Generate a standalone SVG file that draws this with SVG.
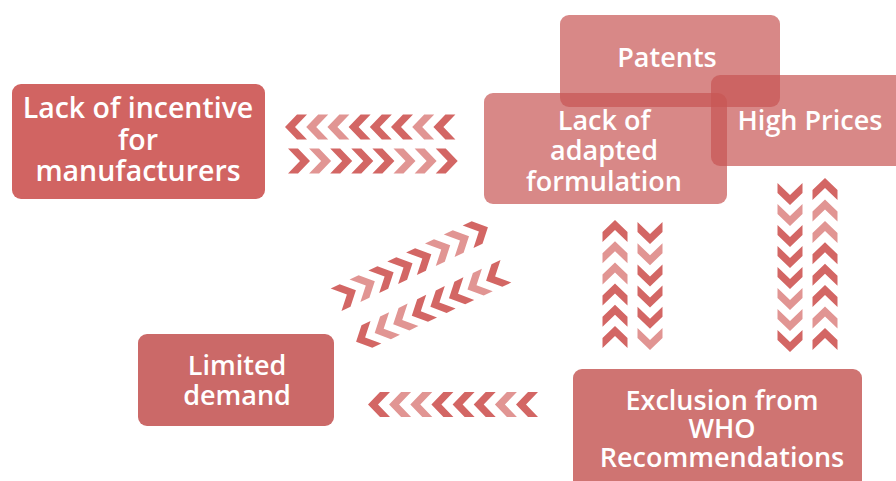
<svg xmlns="http://www.w3.org/2000/svg" xmlns:xlink="http://www.w3.org/1999/xlink" width="896" height="481" viewBox="0 0 896 481">
<defs>
<style>
.lbl{font-family:"Open Sans","Liberation Sans",sans-serif;font-size:27px;font-weight:600;fill:#ffffff;text-anchor:middle}
.big{font-size:28.5px}
.d{fill:#d36664}
.l{fill:#e19593}
.soft{fill:#c85654;fill-opacity:0.7}
</style>
<path id="ch" d="M-11,-12.5 L-1,-12.5 L11,0 L-1,12.5 L-11,12.5 L1,0 Z"/>
</defs>
<rect width="896" height="481" fill="#ffffff"/>
<g id="connectors">
<g id="row-top-left">
<use href="#ch" class="d" transform="translate(296,127) rotate(180)"/>
<use href="#ch" class="l" transform="translate(317.2,127) rotate(180)"/>
<use href="#ch" class="l" transform="translate(338.4,127) rotate(180)"/>
<use href="#ch" class="d" transform="translate(359.6,127) rotate(180)"/>
<use href="#ch" class="d" transform="translate(380.8,127) rotate(180)"/>
<use href="#ch" class="d" transform="translate(402,127) rotate(180)"/>
<use href="#ch" class="l" transform="translate(423.2,127) rotate(180)"/>
<use href="#ch" class="d" transform="translate(444.4,127) rotate(180)"/>
</g>
<g id="row-top-right">
<use href="#ch" class="d" transform="translate(299,161)"/>
<use href="#ch" class="l" transform="translate(320.1,161)"/>
<use href="#ch" class="d" transform="translate(341.2,161)"/>
<use href="#ch" class="d" transform="translate(362.3,161)"/>
<use href="#ch" class="d" transform="translate(383.4,161)"/>
<use href="#ch" class="l" transform="translate(404.5,161)"/>
<use href="#ch" class="l" transform="translate(425.6,161)"/>
<use href="#ch" class="d" transform="translate(446.7,161)"/>
</g>
<g id="diag-up">
<use href="#ch" class="d" transform="translate(346,295) rotate(-25.6)"/>
<use href="#ch" class="l" transform="translate(364.9,286) rotate(-25.6)"/>
<use href="#ch" class="d" transform="translate(383.7,277) rotate(-25.6)"/>
<use href="#ch" class="d" transform="translate(402.6,268) rotate(-25.6)"/>
<use href="#ch" class="d" transform="translate(421.4,259) rotate(-25.6)"/>
<use href="#ch" class="l" transform="translate(440.3,250) rotate(-25.6)"/>
<use href="#ch" class="l" transform="translate(459.1,241) rotate(-25.6)"/>
<use href="#ch" class="d" transform="translate(478,232) rotate(-25.6)"/>
</g>
<g id="diag-down">
<use href="#ch" class="d" transform="translate(366,337) rotate(154.4)"/>
<use href="#ch" class="l" transform="translate(384.6,328.3) rotate(154.4)"/>
<use href="#ch" class="l" transform="translate(403.1,319.6) rotate(154.4)"/>
<use href="#ch" class="d" transform="translate(421.7,310.9) rotate(154.4)"/>
<use href="#ch" class="d" transform="translate(440.3,302.1) rotate(154.4)"/>
<use href="#ch" class="d" transform="translate(458.9,293.4) rotate(154.4)"/>
<use href="#ch" class="l" transform="translate(477.4,284.7) rotate(154.4)"/>
<use href="#ch" class="d" transform="translate(496,276) rotate(154.4)"/>
</g>
<g id="col-mid-up">
<use href="#ch" class="d" transform="translate(615,231) rotate(-90)"/>
<use href="#ch" class="l" transform="translate(615,252.2) rotate(-90)"/>
<use href="#ch" class="l" transform="translate(615,273.4) rotate(-90)"/>
<use href="#ch" class="d" transform="translate(615,294.6) rotate(-90)"/>
<use href="#ch" class="d" transform="translate(615,315.8) rotate(-90)"/>
<use href="#ch" class="d" transform="translate(615,337) rotate(-90)"/>
</g>
<g id="col-mid-down">
<use href="#ch" class="d" transform="translate(650,233) rotate(90)"/>
<use href="#ch" class="l" transform="translate(650,254.2) rotate(90)"/>
<use href="#ch" class="d" transform="translate(650,275.4) rotate(90)"/>
<use href="#ch" class="d" transform="translate(650,296.6) rotate(90)"/>
<use href="#ch" class="d" transform="translate(650,317.8) rotate(90)"/>
<use href="#ch" class="l" transform="translate(650,339) rotate(90)"/>
</g>
<g id="col-right-down">
<use href="#ch" class="d" transform="translate(790,194) rotate(90)"/>
<use href="#ch" class="l" transform="translate(790,215) rotate(90)"/>
<use href="#ch" class="d" transform="translate(790,236) rotate(90)"/>
<use href="#ch" class="d" transform="translate(790,257) rotate(90)"/>
<use href="#ch" class="d" transform="translate(790,278) rotate(90)"/>
<use href="#ch" class="l" transform="translate(790,299) rotate(90)"/>
<use href="#ch" class="l" transform="translate(790,320) rotate(90)"/>
<use href="#ch" class="d" transform="translate(790,341) rotate(90)"/>
</g>
<g id="col-right-up">
<use href="#ch" class="d" transform="translate(825,189) rotate(-90)"/>
<use href="#ch" class="l" transform="translate(825,210.4) rotate(-90)"/>
<use href="#ch" class="l" transform="translate(825,231.9) rotate(-90)"/>
<use href="#ch" class="d" transform="translate(825,253.3) rotate(-90)"/>
<use href="#ch" class="d" transform="translate(825,274.7) rotate(-90)"/>
<use href="#ch" class="d" transform="translate(825,296.1) rotate(-90)"/>
<use href="#ch" class="l" transform="translate(825,317.6) rotate(-90)"/>
<use href="#ch" class="d" transform="translate(825,339) rotate(-90)"/>
</g>
<g id="row-bottom-left">
<use href="#ch" class="d" transform="translate(379,404.5) rotate(180)"/>
<use href="#ch" class="l" transform="translate(400.1,404.5) rotate(180)"/>
<use href="#ch" class="l" transform="translate(421.3,404.5) rotate(180)"/>
<use href="#ch" class="d" transform="translate(442.4,404.5) rotate(180)"/>
<use href="#ch" class="d" transform="translate(463.6,404.5) rotate(180)"/>
<use href="#ch" class="d" transform="translate(484.7,404.5) rotate(180)"/>
<use href="#ch" class="l" transform="translate(505.9,404.5) rotate(180)"/>
<use href="#ch" class="d" transform="translate(527,404.5) rotate(180)"/>
</g>
</g>
<g id="incentive">
<rect x="12" y="84" width="253" height="115" rx="9" fill="#d16462"/>
<text class="lbl big" x="138" y="118">Lack of incentive</text>
<text class="lbl big" x="138" y="150">for</text>
<text class="lbl big" x="138" y="181">manufacturers</text>
</g>
<g id="formulation">
<rect x="484" y="93" width="243" height="111" rx="9" class="soft"/>
<text class="lbl" x="604" y="130">Lack of</text>
<text class="lbl" x="604" y="160">adapted</text>
<text class="lbl" x="604" y="191">formulation</text>
</g>
<g id="patents">
<rect x="560" y="15" width="220" height="92" rx="9" class="soft"/>
<text class="lbl" x="667" y="67">Patents</text>
</g>
<g id="prices">
<rect x="711" y="75" width="200" height="91" rx="9" class="soft"/>
<text class="lbl" x="810" y="130">High Prices</text>
</g>
<g id="demand">
<rect x="138" y="334" width="196" height="92" rx="9" fill="#cb6968"/>
<text class="lbl" x="237" y="375">Limited</text>
<text class="lbl" x="237" y="405">demand</text>
</g>
<g id="exclusion">
<rect x="573" y="369" width="289" height="125" rx="9" fill="#cf7472"/>
<text class="lbl" x="722" y="410">Exclusion from</text>
<text class="lbl" x="722" y="438">WHO</text>
<text class="lbl" x="722" y="467">Recommendations</text>
</g>
</svg>
